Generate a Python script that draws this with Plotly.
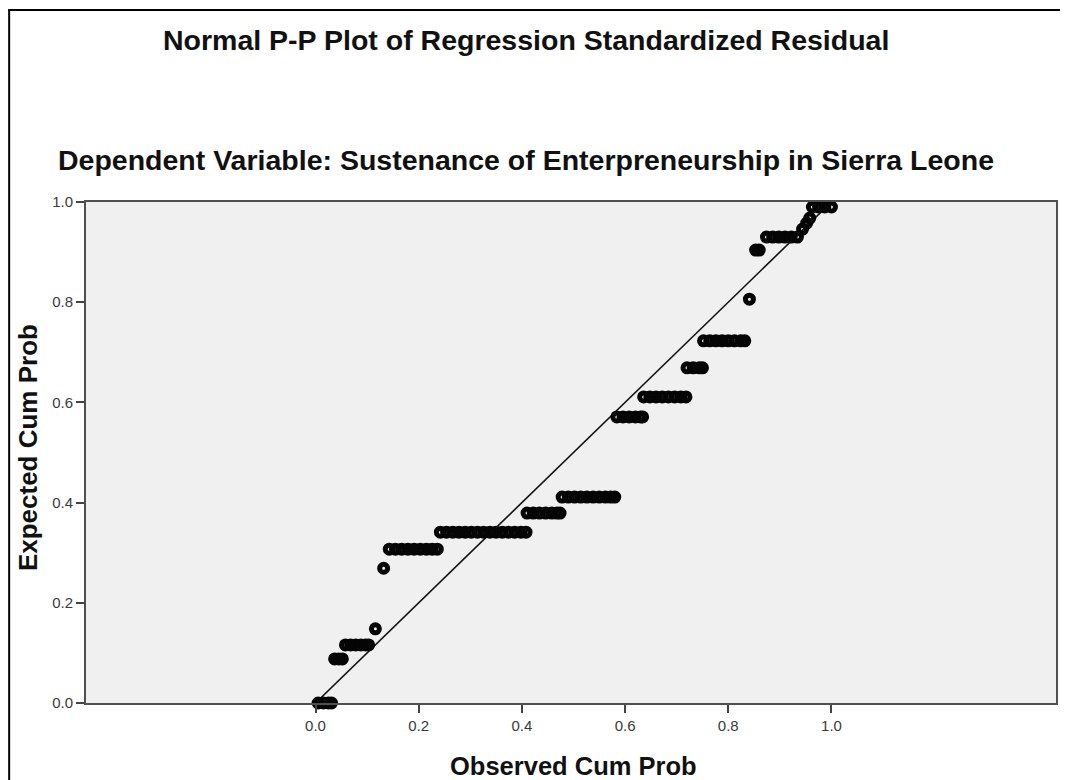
import plotly.graph_objects as go

# ---- data: observed vs expected cumulative probabilities ----
band_expected = [0.0, 0.088, 0.116, 0.148, 0.269, 0.307, 0.341, 0.379, 0.411,
                 0.571, 0.611, 0.669, 0.723, 0.806, 0.904, 0.930, 0.946, 0.958, 0.968, 0.990]
band_observed = [
    [0.005, 0.015, 0.025, 0.031],
    [0.037, 0.045, 0.052],
    [0.058, 0.068, 0.078, 0.088, 0.097, 0.103],
    [0.116],
    [0.132],
    [0.143, 0.155, 0.167, 0.179, 0.191, 0.203, 0.215, 0.226, 0.236],
    [0.242, 0.254, 0.266, 0.278, 0.290, 0.302, 0.314, 0.326, 0.338, 0.350, 0.362, 0.374, 0.386, 0.398, 0.408],
    [0.410, 0.422, 0.434, 0.446, 0.458, 0.468, 0.474],
    [0.478, 0.490, 0.502, 0.514, 0.526, 0.538, 0.550, 0.562, 0.572, 0.580],
    [0.584, 0.596, 0.608, 0.620, 0.630, 0.634],
    [0.636, 0.648, 0.660, 0.672, 0.684, 0.696, 0.708, 0.718],
    [0.720, 0.732, 0.744, 0.750],
    [0.752, 0.764, 0.776, 0.788, 0.800, 0.812, 0.824, 0.832],
    [0.841],
    [0.853, 0.860],
    [0.874, 0.886, 0.898, 0.910, 0.922, 0.934],
    [0.944],
    [0.952],
    [0.958],
    [0.963, 0.975, 0.987, 1.0],
]
ref_line_x = [0.0, 1.0]
ref_line_y = [0.0, 1.0]
tick_vals = [0.0, 0.2, 0.4, 0.6, 0.8, 1.0]
tick_text = ["0.0", "0.2", "0.4", "0.6", "0.8", "1.0"]

title_text = "Normal P-P Plot of Regression Standardized Residual"
subtitle_text = "Dependent Variable: Sustenance of Enterpreneurship in Sierra Leone"
x_title = "Observed Cum Prob"
y_title = "Expected Cum Prob"

observed = []
expected = []
for yv, xs in zip(band_expected, band_observed):
    for xv in xs:
        observed.append(xv)
        expected.append(yv)

# ---- layout geometry (screen pixels; the page body adds an 8px offset) ----
OFF = 8
W, H = 1068 - 2 * OFF, 780 - OFF
L, R, T, B = 86, 1058, 202, 703          # plot area on screen
X0_PX, X1_PX = 316, 833                  # screen x of 0.0 and 1.0


def px(x):
    return (x - L) / (R - L)


def py(y):
    return (B - y) / (B - T)


FONT = "Liberation Sans, Arial, sans-serif"
scale = (X1_PX - X0_PX)

fig = go.Figure()
fig.add_trace(go.Scatter(
    x=ref_line_x, y=ref_line_y, mode="lines",
    line=dict(color="#111111", width=1.6), hoverinfo="skip", showlegend=False))
fig.add_trace(go.Scatter(
    x=observed, y=expected, mode="markers", cliponaxis=False,
    marker=dict(symbol="circle-open", size=8, color="#050505",
                line=dict(color="#050505", width=5)),
    showlegend=False))

fig.update_layout(
    width=W, height=H,
    margin=dict(l=L - OFF, r=(W + OFF) - R, t=T - OFF, b=(H + OFF) - B, pad=0),
    paper_bgcolor="white", plot_bgcolor="#f0f0f0",
    font=dict(family=FONT, color="#333333", size=15),
    xaxis=dict(range=[(L - X0_PX) / scale, (R - X0_PX) / scale], tickvals=tick_vals, ticktext=tick_text,
               showgrid=False, zeroline=False, showline=True, mirror=True,
               linecolor="#505050", linewidth=2, ticks="outside", ticklen=8,
               tickcolor="#444444", tickwidth=1.5, tickfont=dict(size=15, color="#3a3a3a")),
    yaxis=dict(range=[0, 1], tickvals=tick_vals, ticktext=tick_text,
               showgrid=False, zeroline=False, showline=True, mirror=True,
               linecolor="#505050", linewidth=2, ticks="outside", ticklen=8,
               tickcolor="#444444", tickwidth=1.5, tickfont=dict(size=15, color="#3a3a3a")),
    annotations=[
        dict(text="<b>" + title_text + "</b>", x=px(527), y=py(40), xref="paper", yref="paper",
             showarrow=False, xanchor="center", yanchor="middle",
             font=dict(family=FONT, size=28.5, color="#111111")),
        dict(text="<b>" + subtitle_text + "</b>", x=px(527), y=py(160), xref="paper", yref="paper",
             showarrow=False, xanchor="center", yanchor="middle",
             font=dict(family=FONT, size=28.5, color="#111111")),
        dict(text="<b>" + x_title + "</b>", x=px(575), y=py(766), xref="paper", yref="paper",
             showarrow=False, xanchor="center", yanchor="middle",
             font=dict(family=FONT, size=25.5, color="#111111")),
        dict(text="<b>" + y_title + "</b>", x=px(28), y=py(448), xref="paper", yref="paper",
             showarrow=False, xanchor="center", yanchor="middle", textangle=-90,
             font=dict(family=FONT, size=26, color="#111111")),
    ],
    shapes=[
        dict(type="line", xref="paper", yref="paper", x0=px(9), x1=px(9), y0=py(10), y1=py(790),
             line=dict(color="#000000", width=2)),
        dict(type="line", xref="paper", yref="paper", x0=px(8), x1=px(1070), y0=py(10), y1=py(10),
             line=dict(color="#000000", width=2)),
    ],
)

fig.write_html("out.html")
